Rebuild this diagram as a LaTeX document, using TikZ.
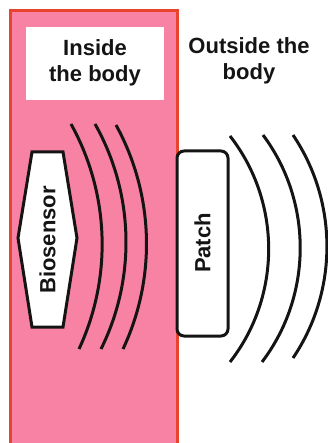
\documentclass[tikz,border=0pt]{standalone}
\usepackage{fontspec}
\setmainfont{Liberation Sans}
\definecolor{bodypink}{RGB}{248,130,163}
\definecolor{bodyred}{RGB}{232,67,46}
\definecolor{ink}{RGB}{20,20,20}
\begin{document}
\begin{tikzpicture}[x=1pt,y=-1pt,
  lbl/.style={font=\fontsize{22}{26}\selectfont\bfseries, text=ink, align=center, inner sep=0pt},
  wave/.style={draw=ink, line width=3pt},
  dev/.style={draw=ink, line width=3pt, fill=white}]
\useasboundingbox (0,0) rectangle (328,443);
% body region
\draw[fill=bodypink, draw=bodyred, line width=3.5pt] (10.5,10.3) rectangle (177.5,450);
% label box
\fill[white] (26,27) rectangle (164,100);
\node[lbl] (inside) at (95,63) {Inside\\the body};
\node[lbl] (outside) at (249,61) {Outside the\\body};
% biosensor
\draw[dev, line join=miter] (18,238) -- (32,152) -- (63,152) -- (77,238) -- (63,327) -- (32,327) -- cycle;
\node[lbl, rotate=90] (bio) at (47.5,240) {Biosensor};
% patch
\draw[dev, rounded corners=7pt] (177,151) rectangle (228,336);
\node[lbl, rotate=90] (patch) at (202.5,243) {Patch};
% inner waves
\draw[wave] (71,124) to[bend left=27, looseness=0.9] (79,349);
\draw[wave] (95,124) to[bend left=28, looseness=0.9] (101,349);
\draw[wave] (116,125) to[bend left=27, looseness=0.9] (123,349);
% outer waves
\draw[wave] (230,136) to[bend left=38, looseness=0.95] (230,362);
\draw[wave] (263,135) to[bend left=37, looseness=0.94] (262,362);
\draw[wave] (293,135) to[bend left=34, looseness=0.93] (293,358);
\end{tikzpicture}
\end{document}
